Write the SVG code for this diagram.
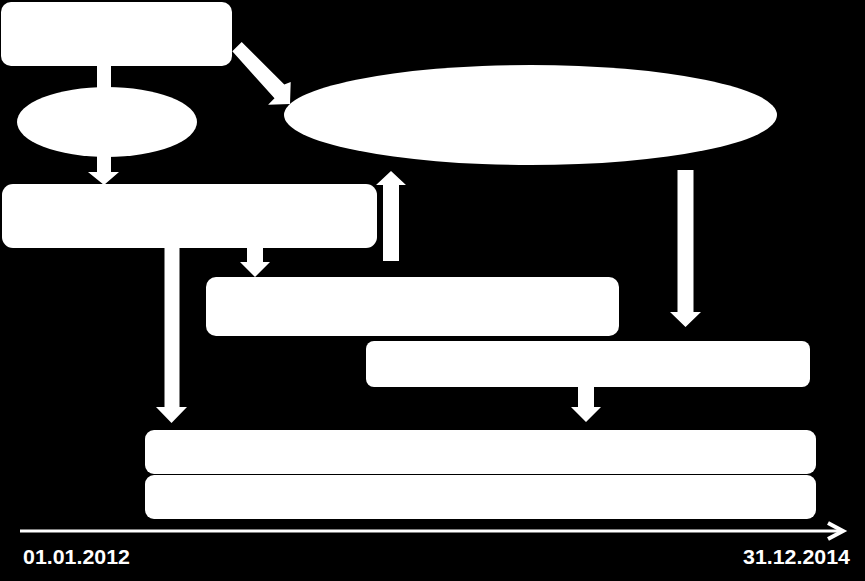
<svg xmlns="http://www.w3.org/2000/svg" width="865" height="581" viewBox="0 0 865 581">
  <style>
    .shape { fill: #ffffff; stroke: none; }
    .arrow { fill: #ffffff; stroke: none; }
    .axis { fill: none; stroke: #ffffff; stroke-width: 3; }
    .axishead { fill: none; stroke: #ffffff; stroke-width: 4; stroke-linejoin: miter; }
    .label { font-family: "Liberation Sans", Arial, sans-serif; font-size: 20px; font-weight: bold; fill: #ffffff; }
  </style>
  <rect x="0" y="0" width="865" height="581" fill="#000000"/>

  <g id="connectors">
    <rect class="arrow" x="97" y="60" width="14" height="32"/>
    <polygon class="arrow" points="97,152 111,152 111,172 119,172 104,185 88,172 97,172"/>
    <polygon class="arrow" points="232.3,51.3 241.7,41.9 284.3,84.5 290.7,82.1 290,104 268.1,104.7 274.5,98.3"/>
    <polygon class="arrow" points="247,246 263,246 263,262 270,262 255,277 240,262 247,262"/>
    <polygon class="arrow" points="383,261 399,261 399,185 406,185 391,171 376,185 383,185"/>
    <polygon class="arrow" points="164.5,246 179.5,246 179.5,407 187,407 171.5,423 156,407 164.5,407"/>
    <polygon class="arrow" points="677.5,170 693.5,170 693.5,312 701,312 685.5,327 670,312 677.5,312"/>
    <polygon class="arrow" points="578,387 594,387 594,407 601,407 586,422 571,407 578,407"/>
  </g>

  <g id="node-top">
    <rect class="shape" x="1" y="2" width="231" height="64" rx="10" ry="10"/>
  </g>
  <g id="node-small-ellipse">
    <ellipse class="shape" cx="107" cy="122" rx="90" ry="35"/>
  </g>
  <g id="node-big-ellipse">
    <ellipse class="shape" cx="530.5" cy="115" rx="246.5" ry="50"/>
  </g>
  <g id="node-rect2">
    <rect class="shape" x="2" y="184" width="375" height="64" rx="11" ry="11"/>
  </g>
  <g id="node-rect3">
    <rect class="shape" x="206" y="277" width="413" height="59" rx="10" ry="10"/>
  </g>
  <g id="node-rect4">
    <rect class="shape" x="366" y="341" width="444" height="46" rx="8" ry="8"/>
  </g>
  <g id="node-bar1">
    <rect class="shape" x="145" y="430" width="671" height="44" rx="9" ry="9"/>
  </g>
  <g id="node-bar2">
    <rect class="shape" x="145" y="475" width="671" height="44" rx="9" ry="9"/>
  </g>

  <g id="timeline">
    <line class="axis" x1="20" y1="531" x2="842" y2="531"/>
    <polyline class="axishead" points="828,523 843,531 828,539"/>
    <text class="label" x="23" y="564" textLength="107" lengthAdjust="spacingAndGlyphs">01.01.2012</text>
    <text class="label" x="743" y="564" textLength="107" lengthAdjust="spacingAndGlyphs">31.12.2014</text>
  </g>
</svg>
